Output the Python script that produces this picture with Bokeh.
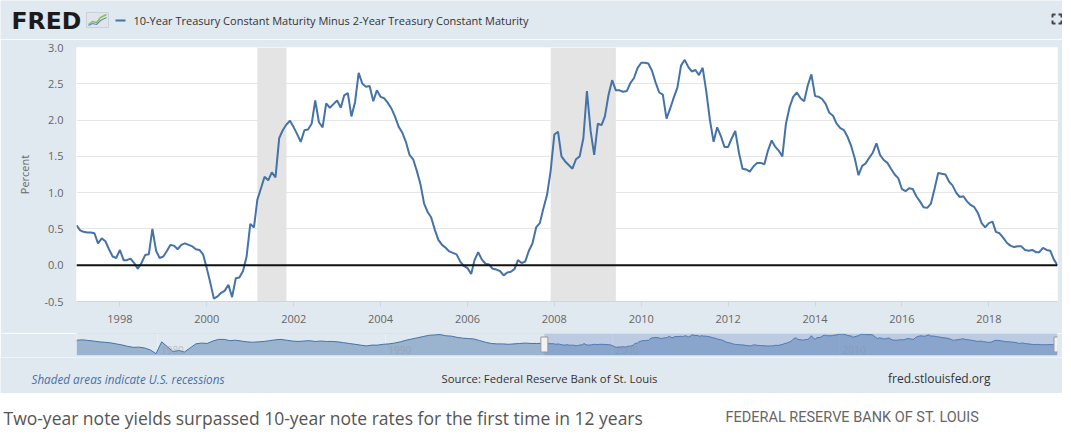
import pandas as pd
from bokeh.plotting import figure
from bokeh.layouts import column
from bokeh.models import (Range1d, ColumnDataSource, FixedTicker,
                          DatetimeTickFormatter, NumeralTickFormatter, Span)
from bokeh.core.properties import value
from bokeh.embed import file_html
from bokeh.resources import INLINE

# ---------------- data ----------------
series_name = "10-Year Treasury Constant Maturity Minus 2-Year Treasury Constant Maturity"
series_start = "1997-01-01"   # monthly values
spread_1997 = [0.55, 0.48, 0.46, 0.45, 0.45, 0.44, 0.30, 0.37, 0.33, 0.22, 0.12, 0.10]
spread_1998 = [0.21, 0.07, 0.07, 0.09, 0.03, -0.05, 0.03, 0.14, 0.15, 0.50, 0.20, 0.10]
spread_1999 = [0.12, 0.20, 0.28, 0.27, 0.22, 0.28, 0.30, 0.28, 0.26, 0.22, 0.21, 0.15]
spread_2000 = [-0.04, -0.25, -0.46, -0.43, -0.38, -0.35, -0.27, -0.44, -0.18, -0.17, -0.08, 0.12]
spread_2001 = [0.57, 0.52, 0.90, 1.06, 1.22, 1.17, 1.28, 1.21, 1.75, 1.86, 1.94, 1.99]
spread_2002 = [1.90, 1.80, 1.70, 1.86, 1.87, 1.95, 2.27, 1.97, 1.90, 2.23, 2.17, 2.22]
spread_2003 = [2.27, 2.17, 2.34, 2.37, 2.05, 2.25, 2.65, 2.50, 2.46, 2.47, 2.26, 2.41]
spread_2004 = [2.32, 2.30, 2.24, 2.16, 2.05, 1.91, 1.83, 1.70, 1.52, 1.46, 1.30, 1.12]
spread_2005 = [0.85, 0.73, 0.66, 0.49, 0.35, 0.28, 0.24, 0.19, 0.17, 0.15, 0.05, -0.01]
spread_2006 = [-0.04, -0.12, 0.07, 0.18, 0.08, 0.02, 0.01, -0.05, -0.06, -0.08, -0.14, -0.10]
spread_2007 = [-0.09, -0.05, 0.07, 0.03, 0.05, 0.20, 0.30, 0.52, 0.58, 0.78, 0.97, 1.30]
spread_2008 = [1.80, 1.84, 1.50, 1.43, 1.38, 1.33, 1.46, 1.50, 1.75, 2.40, 1.85, 1.52]
spread_2009 = [1.95, 1.93, 2.05, 2.35, 2.55, 2.41, 2.41, 2.39, 2.40, 2.51, 2.58, 2.72]
spread_2010 = [2.79, 2.79, 2.78, 2.68, 2.52, 2.38, 2.35, 2.02, 2.16, 2.31, 2.45, 2.75]
spread_2011 = [2.83, 2.73, 2.67, 2.69, 2.62, 2.72, 2.40, 2.00, 1.70, 1.90, 1.78, 1.63]
spread_2012 = [1.63, 1.75, 1.85, 1.55, 1.33, 1.32, 1.29, 1.36, 1.41, 1.41, 1.39, 1.58]
spread_2013 = [1.72, 1.63, 1.58, 1.50, 1.95, 2.18, 2.32, 2.38, 2.30, 2.26, 2.48, 2.63]
spread_2014 = [2.33, 2.32, 2.29, 2.22, 2.10, 2.06, 1.95, 1.89, 1.86, 1.77, 1.64, 1.47]
spread_2015 = [1.24, 1.37, 1.40, 1.48, 1.55, 1.68, 1.52, 1.45, 1.41, 1.33, 1.25, 1.20]
spread_2016 = [1.05, 1.02, 1.06, 1.05, 0.95, 0.88, 0.80, 0.79, 0.85, 1.05, 1.27, 1.26]
spread_2017 = [1.25, 1.15, 1.10, 1.00, 0.94, 0.95, 0.88, 0.83, 0.80, 0.72, 0.58, 0.52]
spread_2018 = [0.58, 0.60, 0.46, 0.44, 0.38, 0.31, 0.27, 0.25, 0.26, 0.26, 0.21, 0.20]
spread_2019 = [0.21, 0.18, 0.18, 0.24, 0.21, 0.20, 0.08, 0.00]

recession_starts = ["2001-03-01", "2007-12-01"]
recession_ends = ["2001-11-01", "2009-06-01"]

# navigator: earlier history (quarterly), then the monthly series above
nav_early_start = "1976-06-01"
nav_early = [1.30, 1.40,
             1.25, 1.10, 0.90, 0.80,
             0.65, 0.40, 0.15, -0.20,
             -0.45, -0.40, -0.60, -1.10,
             -2.00, 0.90, -0.30, -1.50,
             -1.20, -1.60, -0.60, 0.40,
             0.60, 0.50, 1.10, 1.50,
             1.50, 1.20, 1.30, 1.10,
             0.90, 0.80, 0.90, 1.00,
             1.20, 1.40, 1.50, 1.30,
             1.10, 1.00, 1.10, 1.20,
             1.00, 1.10, 1.00, 1.00,
             0.90, 0.70, 0.50, 0.30,
             0.10, -0.10, 0.10, 0.10,
             0.30, 0.40, 0.60, 0.90,
             1.30, 1.60, 1.90, 2.20,
             2.50, 2.60, 2.70, 2.40,
             2.30, 2.00, 1.80, 1.70,
             1.60, 1.20, 0.80, 0.50,
             0.40, 0.40, 0.30, 0.40,
             0.50, 0.60, 0.50, 0.50]
nav_label_years = [1980, 1990, 2000, 2010]

x_tick_years = [1998, 2000, 2002, 2004, 2006, 2008, 2010, 2012, 2014, 2016, 2018]
y_ticks = [-0.5, 0.0, 0.5, 1.0, 1.5, 2.0, 2.5, 3.0]
y_min, y_max = -0.5, 3.0
zero_level = 0.0
nav_min, nav_max = -2.45, 2.95

header_text = "FRED"
footer_left = "Shaded areas indicate U.S. recessions"
footer_mid = "Source: Federal Reserve Bank of St. Louis"
footer_right = "fred.stlouisfed.org"
caption_text = "Two-year note yields surpassed 10-year note rates for the first time in 12 years"
caption_credit = "FEDERAL RESERVE BANK OF ST. LOUIS"

# ---------------- styles ----------------
W = 1062
BL, BR = 76, 5          # frame borders of the chart and its navigator
PANEL = "#e1e9f0"
LINE = "#4572a7"
FONT = value("Open Sans")

spread = (spread_1997 + spread_1998 + spread_1999 + spread_2000 + spread_2001 +
          spread_2002 + spread_2003 + spread_2004 + spread_2005 + spread_2006 +
          spread_2007 + spread_2008 + spread_2009 + spread_2010 + spread_2011 +
          spread_2012 + spread_2013 + spread_2014 + spread_2015 + spread_2016 +
          spread_2017 + spread_2018 + spread_2019)
dates = pd.date_range(series_start, periods=len(spread), freq="MS")
nav_early_dates = pd.date_range(nav_early_start, periods=len(nav_early), freq="3MS")
nav_dates = list(nav_early_dates) + list(dates)
nav_vals = nav_early + spread


def ms(ts):
    return pd.Timestamp(ts).timestamp() * 1000.0


def blank(height, bg=PANEL):
    # pixel coordinates: data x == canvas x, data y == canvas y (downwards)
    f = figure(width=W, height=height, x_range=Range1d(0, W), y_range=Range1d(height, 0),
               toolbar_location=None, output_backend="svg", min_border=0, frame_align=False)
    f.axis.visible = False
    f.grid.visible = False
    f.outline_line_color = None
    f.background_fill_color = bg
    f.border_fill_color = bg
    return f


def txt(fig, x, y, text, size, color, font="Open Sans", style="normal",
        align="left", baseline="middle"):
    fig.text(x=[x], y=[y], text=[text], text_font=value(font), text_font_size=size,
             text_font_style=style, text_color=color, text_align=align,
             text_baseline=baseline)


# ---------------- header ----------------
head = blank(39)
txt(head, 11, 20.5, header_text, "23.5px", "#1b1b1b", font="DejaVu Sans", style="bold")
head.quad(left=[86], right=[108], top=[12], bottom=[27], fill_color="#dfe5ea",
          line_color="#c9d0d8", line_width=1)
head.line([88, 92, 96, 100, 106], [24, 21, 22, 17, 14], line_color="#8dc152", line_width=1.5)
head.line([88, 92, 96, 100, 106], [25, 23, 24, 20, 17], line_color="#5b8cc8", line_width=1.2)
head.line([115, 125], [20, 20], line_color=LINE, line_width=2)
txt(head, 133, 20, series_name, "11px", "#333333")
head.multi_line(xs=[[1052, 1052, 1055], [1058, 1061, 1061], [1052, 1052, 1055], [1058, 1061, 1061]],
                ys=[[17, 14, 14], [14, 14, 17], [20, 23, 23], [23, 23, 20]],
                line_color="#444444", line_width=2)

# ---------------- main chart ----------------
src = ColumnDataSource(dict(date=dates, spread=spread))
rec = ColumnDataSource(dict(left=pd.to_datetime(recession_starts), right=pd.to_datetime(recession_ends)))

p = figure(width=W, height=294, x_axis_type="datetime",
           x_range=Range1d(dates[0], dates[-1]), y_range=Range1d(y_min, y_max),
           toolbar_location=None, output_backend="svg",
           min_border_left=BL, min_border_right=BR, min_border_top=8, min_border_bottom=32)
p.background_fill_color = "white"
p.border_fill_color = PANEL
p.outline_line_color = None

p.quad(left="left", right="right", bottom=y_min, top=y_max, source=rec,
       fill_color="#e4e4e4", line_color=None)
p.line(x="date", y="spread", source=src, line_color=LINE, line_width=2)
p.add_layout(Span(location=zero_level, dimension="width", line_color="#111111", line_width=2))

p.xgrid.visible = False
p.ygrid.ticker = FixedTicker(ticks=y_ticks)
p.ygrid.grid_line_color = "#e6e6e6"

p.yaxis.ticker = FixedTicker(ticks=y_ticks)
p.yaxis.formatter = NumeralTickFormatter(format="0.0")
p.yaxis.axis_line_color = None
p.yaxis.major_tick_line_color = None
p.yaxis.major_tick_out = 0
p.yaxis.major_tick_in = 0
p.yaxis.minor_tick_line_color = None
p.yaxis.major_label_standoff = 13
p.yaxis.axis_label = "Percent"
p.yaxis.axis_label_standoff = 9
p.yaxis.axis_label_text_font = "Open Sans"
p.yaxis.axis_label_text_font_size = "11px"
p.yaxis.axis_label_text_font_style = "normal"
p.yaxis.axis_label_text_color = "#666666"

p.xaxis.ticker = FixedTicker(ticks=[ms(f"{y}-01-01") for y in x_tick_years])
p.xaxis.formatter = DatetimeTickFormatter(years="%Y", months="%Y", days="%Y", hours="%Y")
p.xaxis.axis_line_color = "#ccd6eb"
p.xaxis.major_tick_line_color = "#ccd6eb"
p.xaxis.major_tick_in = 0
p.xaxis.major_tick_out = 5
p.xaxis.minor_tick_line_color = None
p.xaxis.major_label_standoff = 8

for ax in (p.xaxis, p.yaxis):
    ax.major_label_text_font = "Open Sans"
    ax.major_label_text_font_size = "11px"
    ax.major_label_text_color = "#666666"

# ---------------- navigator ----------------
nsrc = ColumnDataSource(dict(date=nav_dates, v=nav_vals))
nav = figure(width=W, height=24, x_axis_type="datetime",
             x_range=Range1d(nav_dates[0], dates[-1]), y_range=Range1d(nav_min, nav_max),
             toolbar_location=None, output_backend="svg",
             min_border_left=BL, min_border_right=BR, min_border_top=0, min_border_bottom=2)
nav.axis.visible = False
nav.ygrid.visible = False
nav.xgrid.ticker = FixedTicker(ticks=[ms(f"{y}-01-01") for y in nav_label_years])
nav.xgrid.grid_line_color = "#f2f5f8"
nav.xgrid.grid_line_alpha = 0.6
nav.background_fill_color = PANEL
nav.border_fill_color = PANEL
nav.outline_line_color = None
nav.varea(x="date", y1=nav_min, y2="v", source=nsrc, fill_color=LINE, fill_alpha=0.45)
nav.line(x="date", y="v", source=nsrc, line_color=LINE, line_width=1)
nav.text(x=pd.to_datetime([f"{y}-01-01" for y in nav_label_years]), y=[nav_min] * len(nav_label_years),
         text=[str(y) for y in nav_label_years], text_font=FONT, text_font_size="10px",
         text_color="#999999", text_alpha=0.55, text_baseline="bottom", text_align="left",
         x_offset=3, y_offset=-2)
nav.quad(left=[dates[0]], right=[dates[-1]], bottom=nav_min, top=nav_max,
         fill_color="#6685c2", fill_alpha=0.3, line_color=None)
nav.add_layout(Span(location=nav_max, dimension="width", line_color="#c8cfd8", line_width=1))
nav.rect(x=[dates[0], dates[-1]], y=(nav_min + nav_max) / 2, width=7, height=15,
         width_units="screen", height_units="screen", fill_color="#f2f2f2",
         line_color="#999999", line_width=1)

# ---------------- footer ----------------
foot = blank(36)
txt(foot, 31, 21, footer_left, "11.7px", "#4572a7", style="italic")
txt(foot, 549, 21, footer_mid, "11.3px", "#333333", align="center")
txt(foot, 990, 21, footer_right, "12px", "#333333", align="right")

# ---------------- caption ----------------
cap = blank(36, bg="white")
txt(cap, 3, 24, caption_text, "17.5px", "#555555")
txt(cap, 725, 24, caption_credit, "14.5px", "#666666", font="Roboto")

layout = column(head, p, nav, foot, cap, spacing=0)
open("out.html", "w").write(file_html(layout, INLINE))
